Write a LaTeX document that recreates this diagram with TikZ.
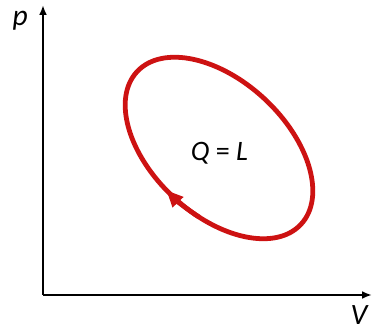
\documentclass[tikz,border=0pt]{standalone}
\usepackage{fontspec}
\setmainfont{Carlito}
\usetikzlibrary{arrows.meta}
\definecolor{ciclo}{RGB}{205,18,18}

\begin{document}
\begin{tikzpicture}
  \useasboundingbox (-1.075,-0.975) rectangle (8.3,7.375);

  % assi
  \draw[line width=1.6pt,-{Latex[length=7pt,width=5.5pt]}] (0,0) -- (0,7.25);
  \draw[line width=1.6pt,-{Latex[length=7pt,width=5.5pt]}] (0,0) -- (8.225,0);
  \node[font=\fontsize{21}{25}\selectfont\itshape] (p) at (-0.57,6.85) {p};
  \node[font=\fontsize{21}{25}\selectfont\itshape] (V) at (7.9,-0.5) {V};

  % ciclo
  \begin{scope}[shift={(4.4,3.675)},rotate=-43]
    \draw[ciclo,line width=3.4pt] (0,0) ellipse [x radius=2.8, y radius=1.675];
    \draw[ciclo,line width=3.4pt,-{Triangle[length=12pt,width=10pt]}]
      (-73:2.8 and 1.675) arc[start angle=-73,end angle=-95,x radius=2.8,y radius=1.675];
  \end{scope}
  \node[font=\fontsize{20}{24}\selectfont] (QL) at (4.41,3.55) {\textit{Q} = \textit{L}};
\end{tikzpicture}
\end{document}
